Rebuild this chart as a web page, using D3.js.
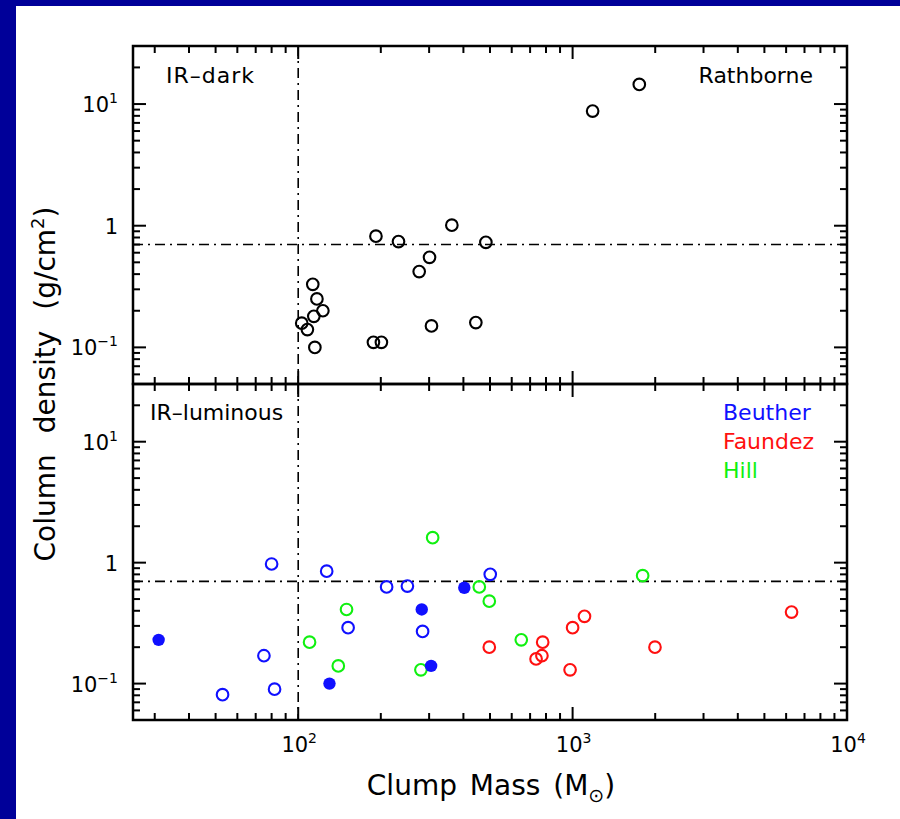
<!DOCTYPE html>
<html>
<head>
<meta charset="utf-8">
<script src="https://cdn.jsdelivr.net/npm/d3@7"></script>
<style>
  html, body { margin: 0; padding: 0; background: #000099; }
  svg { display: block; }
  text { font-family: "DejaVu Sans", sans-serif; fill: #000; }
</style>
</head>
<body>
<svg id="chart" width="900" height="819"></svg>
<script>
// IR-dark clumps (Rathborne)
const rathborneMass    = [103, 108, 114, 113, 117, 123, 115, 188, 201, 192, 232, 363, 483, 301, 276, 306, 444, 1183, 1750];
const rathborneDensity = [0.158, 0.14, 0.18, 0.33, 0.25, 0.20, 0.10, 0.11, 0.11, 0.82, 0.74, 1.01, 0.73, 0.55, 0.42, 0.15, 0.16, 8.75, 14.5];

// IR-luminous clumps
const beutherOpenMass      = [80, 75, 53, 82, 127, 210, 250, 501, 284, 152];
const beutherOpenDensity   = [0.975, 0.17, 0.081, 0.09, 0.85, 0.63, 0.64, 0.80, 0.27, 0.29];
const beutherFilledMass    = [31, 403, 282, 305, 130];
const beutherFilledDensity = [0.23, 0.62, 0.41, 0.14, 0.10];
const faundezMass    = [497, 778, 736, 773, 1000, 979, 1105, 1996, 6280];
const faundezDensity = [0.20, 0.22, 0.16, 0.17, 0.29, 0.13, 0.36, 0.20, 0.39];
const hillMass    = [110, 309, 457, 497, 150, 140, 280, 650, 1800];
const hillDensity = [0.22, 1.61, 0.63, 0.48, 0.41, 0.14, 0.13, 0.23, 0.78];

// Reference lines
const massThreshold = 100;
const densityThreshold = 0.7;

// Axis ranges and tick labels
const massDomain = [25, 10000];
const densityDomain = [0.05, 30];
const massMajorTicks = [100, 1000, 10000];
const massTickExponents = ["2", "3", "4"];
const densityMajorTicks = [0.1, 1, 10];
const densityTickBases = ["10", "1", "10"];
const densityTickExponents = ["\u22121", "", "1"];

const legendNames  = ["Beuther", "Faundez", "Hill"];
const legendColors = ["#1010ff", "#ff1010", "#10f010"];

const svg = d3.select("#chart");

// white page inside the dark frame
svg.append("rect").attr("x", 16).attr("y", 6).attr("width", 884).attr("height", 813).attr("fill", "#fff");

const plotLeft = 133, plotRight = 847, plotTop = 46, plotMid = 384, plotBottom = 720;
const majorLen = 13, minorLen = 7;

const x = d3.scaleLog().domain(massDomain).range([plotLeft, plotRight]);
const yTop = d3.scaleLog().domain(densityDomain).range([plotMid, plotTop]);
const yBot = d3.scaleLog().domain(densityDomain).range([plotBottom, plotMid]);

// 2..9 x 10^n inside a domain
function minorTicks(domain) {
  const out = [];
  for (let e = -3; e <= 5; e++) {
    for (let k = 2; k <= 9; k++) {
      const v = k * Math.pow(10, e);
      if (v >= domain[0] * 0.999 && v <= domain[1] * 1.001) out.push(v);
    }
  }
  return out;
}
const massTicks = massMajorTicks.map(v => ({ v, len: majorLen }))
  .concat(minorTicks(massDomain).map(v => ({ v, len: minorLen })));
const densityTicks = densityMajorTicks.map(v => ({ v, len: majorLen }))
  .concat(minorTicks(densityDomain).map(v => ({ v, len: minorLen })));

function drawPanel(y, y0, y1) {
  const g = svg.append("g");
  const ticks = g.append("g").attr("stroke", "#000").attr("stroke-width", 2);

  // x ticks pointing inward from the bottom and top edges
  ticks.selectAll("line.xb").data(massTicks).join("line").attr("class", "xb")
    .attr("x1", d => x(d.v)).attr("x2", d => x(d.v))
    .attr("y1", y0).attr("y2", d => y0 - d.len);
  ticks.selectAll("line.xt").data(massTicks).join("line").attr("class", "xt")
    .attr("x1", d => x(d.v)).attr("x2", d => x(d.v))
    .attr("y1", y1).attr("y2", d => y1 + d.len);
  // y ticks pointing inward from the left and right edges
  ticks.selectAll("line.yl").data(densityTicks).join("line").attr("class", "yl")
    .attr("y1", d => y(d.v)).attr("y2", d => y(d.v))
    .attr("x1", plotLeft).attr("x2", d => plotLeft + d.len);
  ticks.selectAll("line.yr").data(densityTicks).join("line").attr("class", "yr")
    .attr("y1", d => y(d.v)).attr("y2", d => y(d.v))
    .attr("x1", plotRight).attr("x2", d => plotRight - d.len);

  // y tick labels
  densityMajorTicks.forEach((v, i) => {
    const t = g.append("text").attr("x", 118).attr("y", y(v) + 8)
      .attr("text-anchor", "end").attr("font-size", 21);
    t.append("tspan").text(densityTickBases[i]);
    if (densityTickExponents[i]) {
      t.append("tspan").attr("dy", -9).attr("font-size", 14).text(densityTickExponents[i]);
    }
  });

  // dash-dot reference lines
  g.append("line").attr("x1", plotLeft).attr("x2", plotRight)
    .attr("y1", y(densityThreshold)).attr("y2", y(densityThreshold))
    .attr("stroke", "#000").attr("stroke-width", 1.6).attr("stroke-dasharray", "10,5,2,5");
  g.append("line").attr("x1", x(massThreshold)).attr("x2", x(massThreshold))
    .attr("y1", y1).attr("y2", y0)
    .attr("stroke", "#000").attr("stroke-width", 1.6).attr("stroke-dasharray", "10,5,2,5");

  // frame
  g.append("rect").attr("x", plotLeft).attr("y", y1).attr("width", plotRight - plotLeft).attr("height", y0 - y1)
    .attr("fill", "none").attr("stroke", "#000").attr("stroke-width", 2.5);
  return g;
}

const gTop = drawPanel(yTop, plotMid, plotTop);
const gBot = drawPanel(yBot, plotBottom, plotMid);

function drawPoints(g, y, masses, dens, color, filled) {
  g.append("g").selectAll("circle").data(masses).join("circle")
    .attr("cx", d => x(d))
    .attr("cy", (d, i) => y(dens[i]))
    .attr("r", filled ? 6.2 : 5.8)
    .attr("fill", filled ? color : "none")
    .attr("stroke", filled ? "none" : color)
    .attr("stroke-width", 2.1);
}

drawPoints(gTop, yTop, rathborneMass, rathborneDensity, "#000", false);
drawPoints(gBot, yBot, beutherOpenMass, beutherOpenDensity, legendColors[0], false);
drawPoints(gBot, yBot, faundezMass, faundezDensity, legendColors[1], false);
drawPoints(gBot, yBot, hillMass, hillDensity, legendColors[2], false);
drawPoints(gBot, yBot, beutherFilledMass, beutherFilledDensity, legendColors[0], true);

// x tick labels
massMajorTicks.forEach((v, i) => {
  const t = svg.append("text").attr("x", x(v) + 1).attr("y", 752)
    .attr("text-anchor", "middle").attr("font-size", 21);
  t.append("tspan").text("10");
  t.append("tspan").attr("dy", -9).attr("font-size", 14).text(massTickExponents[i]);
});

// panel annotations
svg.append("text").attr("x", 166).attr("y", 83).attr("font-size", 22).attr("letter-spacing", 1).text("IR\u2013dark");
svg.append("text").attr("x", 813).attr("y", 83).attr("font-size", 22).attr("text-anchor", "end").text("Rathborne");
svg.append("text").attr("x", 150).attr("y", 420).attr("font-size", 22).text("IR\u2013luminous");

// legend
legendNames.forEach((name, i) => {
  svg.append("text").attr("x", 723).attr("y", 420 + i * 29).attr("font-size", 22)
    .style("fill", legendColors[i]).text(name);
});

// axis titles
const xt = svg.append("text").attr("x", 491).attr("y", 795).attr("text-anchor", "middle")
  .attr("font-size", 28).attr("word-spacing", 4);
xt.append("tspan").text("Clump Mass (M");
xt.append("tspan").attr("dy", 7).attr("font-size", 19).text("\u2299");
xt.append("tspan").attr("dy", -7).text(")");

const yt = svg.append("text").attr("transform", "translate(55,384) rotate(-90)")
  .attr("text-anchor", "middle").attr("font-size", 28).attr("word-spacing", 12);
yt.append("tspan").text("Column density (g/cm");
yt.append("tspan").attr("dy", -11).attr("font-size", 18).text("2");
yt.append("tspan").attr("dy", 11).text(")");
</script>
</body>
</html>
